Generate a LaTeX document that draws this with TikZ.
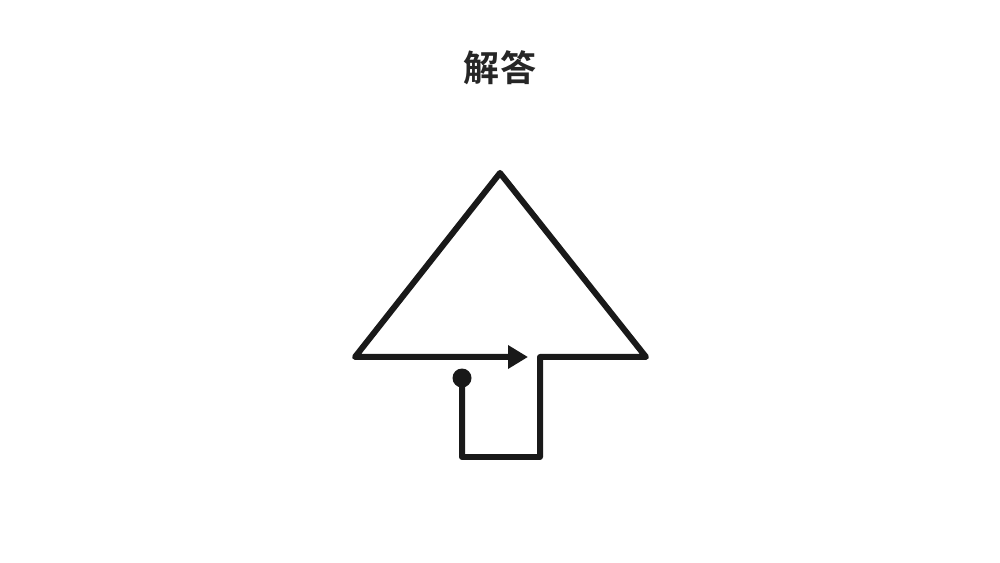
\documentclass[tikz,border=0pt]{standalone}
\usepackage{fontspec}
\newfontfamily\cjk{Noto Sans CJK SC}[BoldFont={* Bold}]
\usetikzlibrary{arrows.meta}
\begin{document}
\begin{tikzpicture}[
            x=0.02cm, y=-0.02cm,
            route/.style={line width=0.12cm, line join=round, line cap=round, draw=black!90},
            tipped/.style={-{Triangle[length=0.4cm, width=0.45cm]}},
            title/.style={font=\cjk\bfseries\fontsize{20.5}{20.5}\selectfont, text=black!85}
        ]
        \useasboundingbox (0,0) rectangle (1000,563);

        % Title
        \node[title] (head) at (500,68) {解答};

        % Corners of the figure
        \coordinate (apex) at (500,173);
        \coordinate (left) at (355,357);
        \coordinate (right) at (646,357);
        \coordinate (notch) at (540,357);
        \coordinate (br) at (540,457);
        \coordinate (bl) at (462,457);
        \coordinate (start) at (462,378);
        \coordinate (tip) at (528,357);

        % One stroke path
        \draw[route, tipped] (start) -- (bl) -- (br) -- (notch) -- (right)
            -- (apex) -- (left) -- (tip);

        % Starting point
        \fill[black!90] (start) circle (0.19cm);

    \end{tikzpicture}
\end{document}
